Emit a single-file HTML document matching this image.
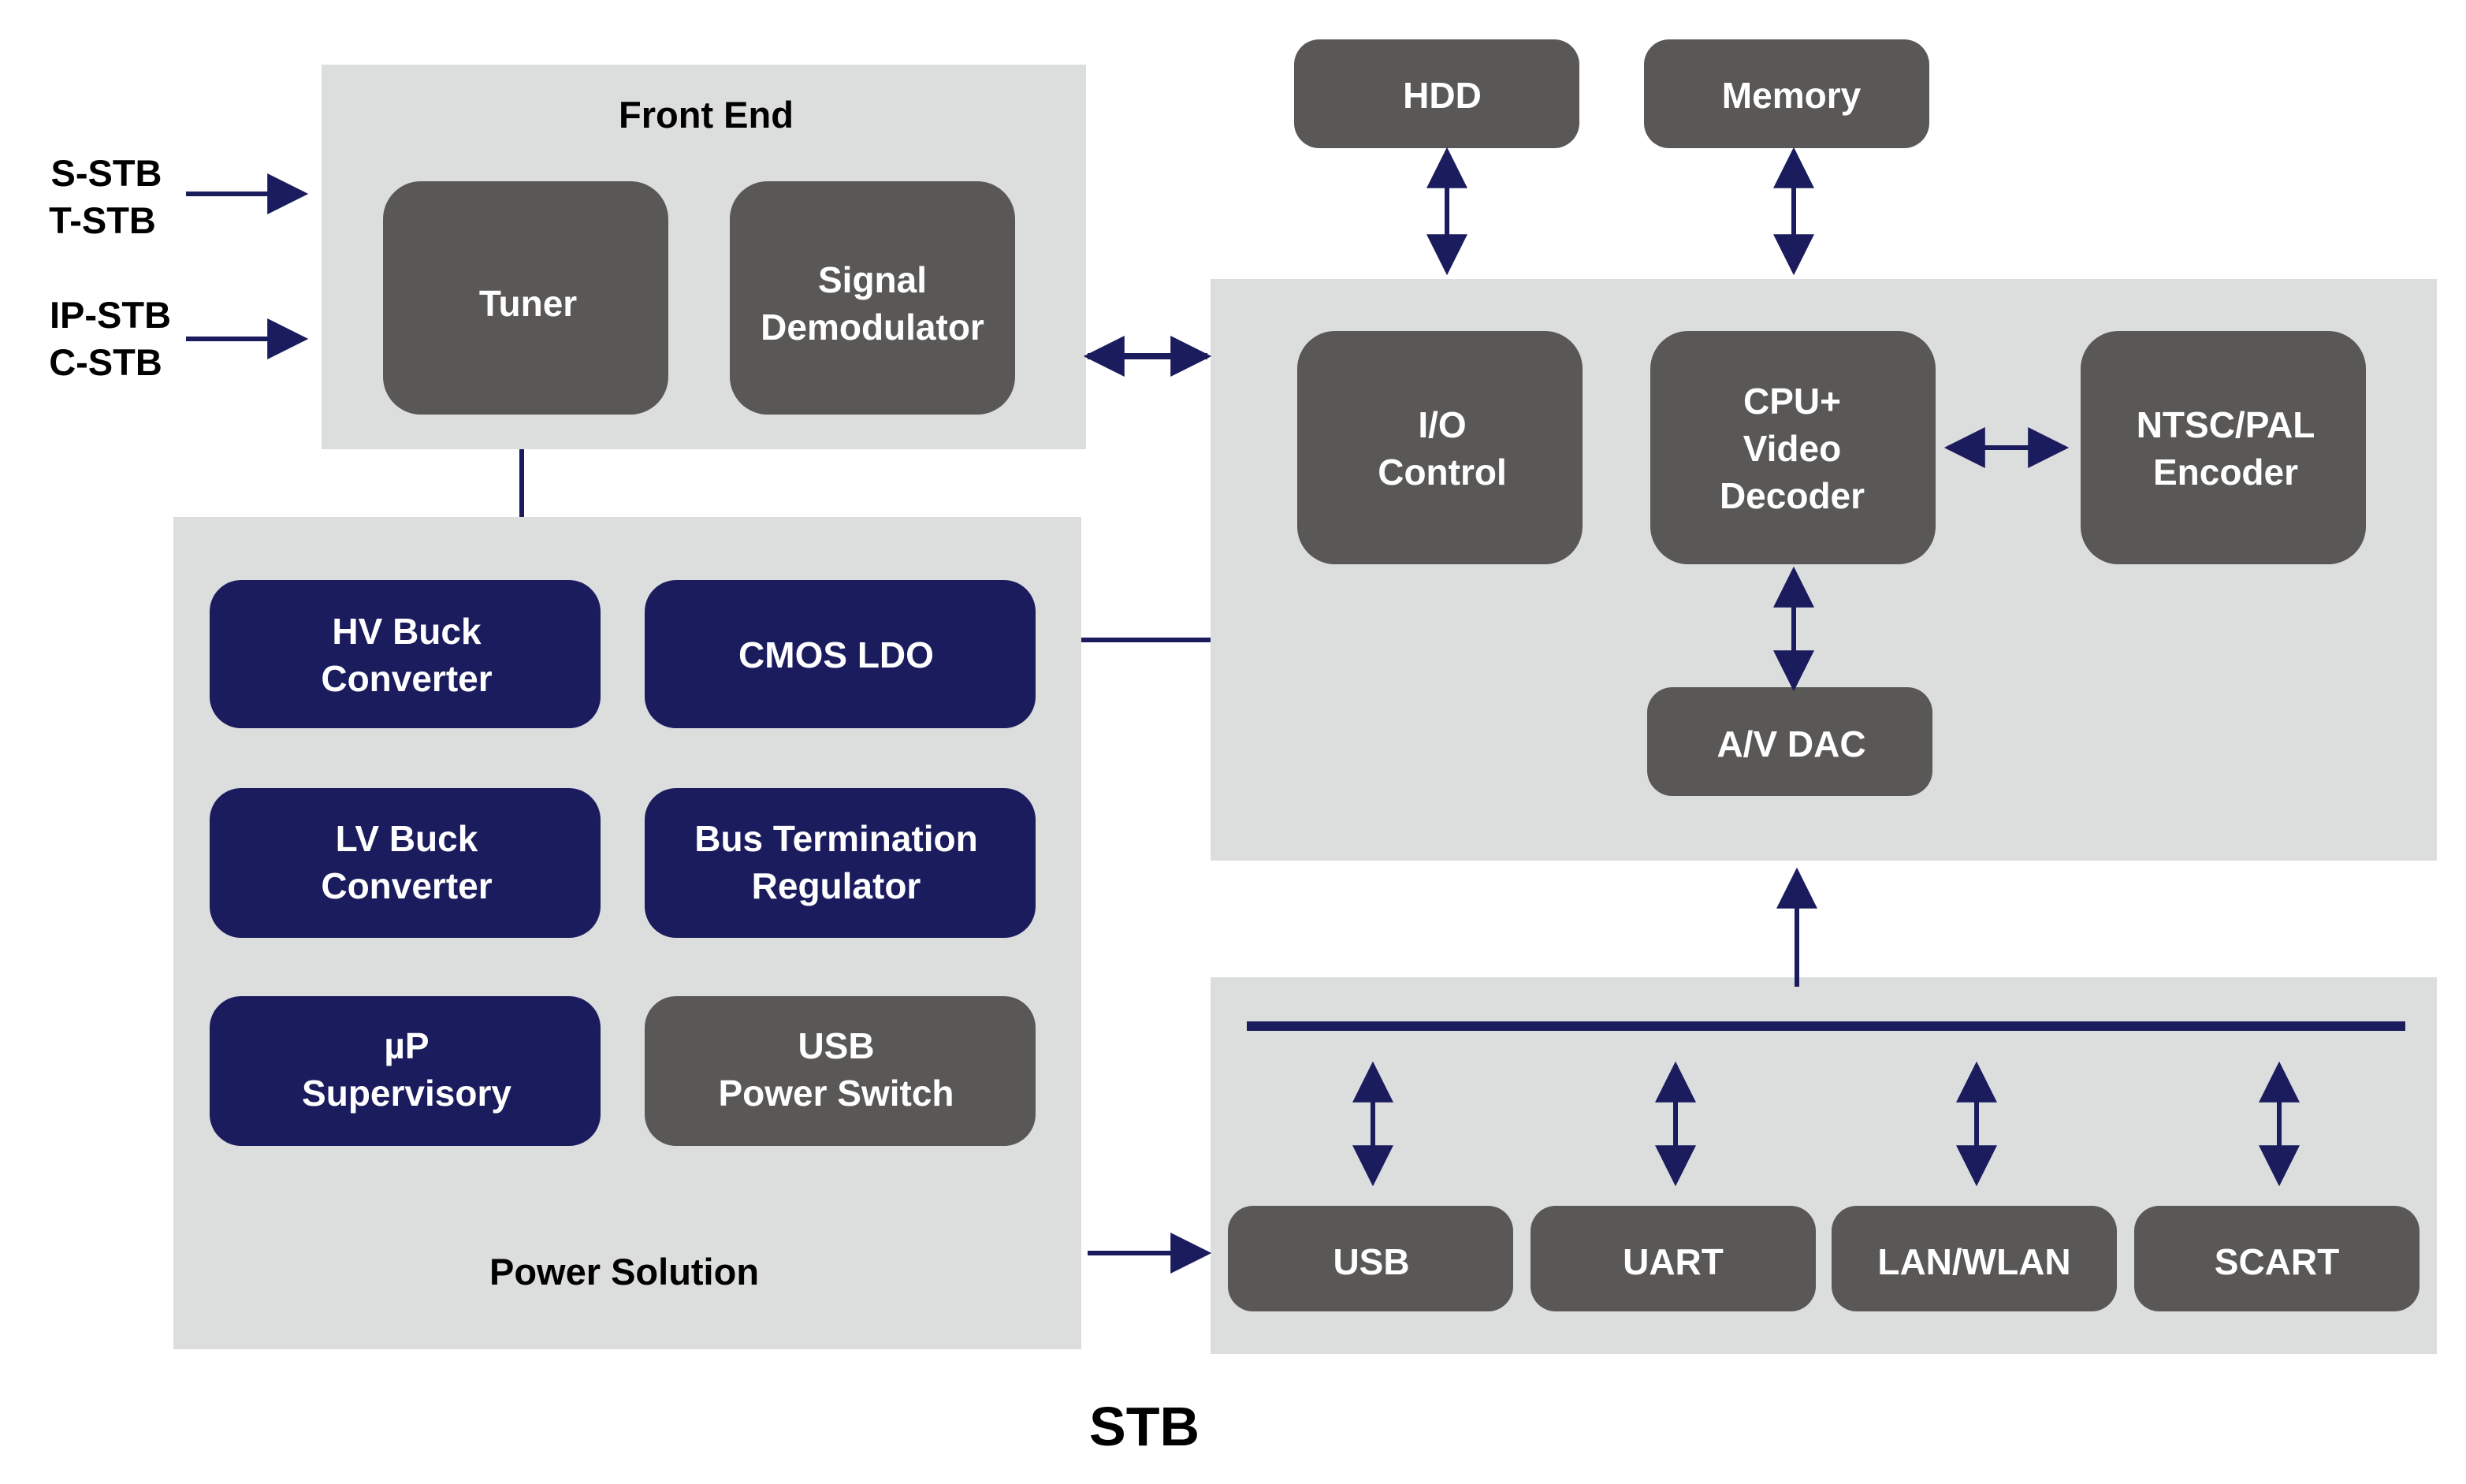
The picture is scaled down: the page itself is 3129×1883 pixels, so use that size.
<!DOCTYPE html>
<html><head><meta charset="utf-8"><style>html,body{margin:0;padding:0;background:#fff}svg{display:block}</style></head>
<body>
<svg width="3129" height="1883" viewBox="0 0 3129 1883" xmlns="http://www.w3.org/2000/svg" font-family="Liberation Sans, Arial, sans-serif" font-weight="bold">
<defs>
<marker id="ah" viewBox="0 0 10 10" refX="9" refY="5" markerWidth="68" markerHeight="52" markerUnits="userSpaceOnUse" orient="auto-start-reverse"><path d="M0,0 L10,5 L0,10 z" fill="#1a1c5e"/></marker>
</defs>
<!-- panels -->
<rect x="408" y="82" width="970" height="488" fill="#dcdddd"/>
<rect x="220" y="656" width="1152" height="1056" fill="#dcdddd"/>
<rect x="1536" y="354" width="1556" height="738" fill="#dcdddd"/>
<rect x="1536" y="1240" width="1556" height="478" fill="#dcdddd"/>
<g font-size="47" text-anchor="middle" fill="#000">
<text x="896" y="162">Front End</text>
<text x="792" y="1630">Power Solution</text>
<text x="135" y="236">S-STB</text><text x="130" y="296">T-STB</text>
<text x="140" y="416">IP-STB</text><text x="134" y="476">C-STB</text>
<text x="1452" y="1834" font-size="70">STB</text>
</g>
<!-- gray boxes -->
<g fill="#595856">
<rect x="486" y="230" width="362" height="296" rx="48"/>
<rect x="926" y="230" width="362" height="296" rx="48"/>
<rect x="1642" y="50" width="362" height="138" rx="32"/>
<rect x="2086" y="50" width="362" height="138" rx="32"/>
<rect x="1646" y="420" width="362" height="296" rx="48"/>
<rect x="2094" y="420" width="362" height="296" rx="48"/>
<rect x="2640" y="420" width="362" height="296" rx="48"/>
<rect x="2090" y="872" width="362" height="138" rx="32"/>
<rect x="1558" y="1530" width="362" height="134" rx="32"/>
<rect x="1942" y="1530" width="362" height="134" rx="32"/>
<rect x="2324" y="1530" width="362" height="134" rx="32"/>
<rect x="2708" y="1530" width="362" height="134" rx="32"/>
<rect x="818" y="1264" width="496" height="190" rx="40"/>
</g>
<g fill="#1a1c5e">
<rect x="266" y="736" width="496" height="188" rx="40"/>
<rect x="818" y="736" width="496" height="188" rx="40"/>
<rect x="266" y="1000" width="496" height="190" rx="40"/>
<rect x="818" y="1000" width="496" height="190" rx="40"/>
<rect x="266" y="1264" width="496" height="190" rx="40"/>
</g>
<g font-size="46" text-anchor="middle" fill="#fff">
<text x="670" y="401">Tuner</text>
<text x="1107" y="371">Signal</text><text x="1107" y="431">Demodulator</text>
<text x="1830" y="137">HDD</text>
<text x="2273" y="137">Memory</text>
<text x="1830" y="555">I/O</text><text x="1830" y="615">Control</text>
<text x="2274" y="525">CPU+</text><text x="2274" y="585">Video</text><text x="2274" y="645">Decoder</text>
<text x="2824" y="555">NTSC/PAL</text><text x="2824" y="615">Encoder</text>
<text x="2273" y="960">A/V DAC</text>
<text x="1740" y="1617">USB</text>
<text x="2123" y="1617">UART</text>
<text x="2505" y="1617">LAN/WLAN</text>
<text x="2889" y="1617">SCART</text>
<text x="516" y="817">HV Buck</text><text x="516" y="877">Converter</text>
<text x="1061" y="847">CMOS LDO</text>
<text x="516" y="1080">LV Buck</text><text x="516" y="1140">Converter</text>
<text x="1061" y="1080">Bus Termination</text><text x="1061" y="1140">Regulator</text>
<text x="516" y="1343">µP</text><text x="516" y="1403">Supervisory</text>
<text x="1061" y="1343">USB</text><text x="1061" y="1403">Power Switch</text>
</g>
<!-- connectors -->
<g stroke="#1a1c5e" stroke-width="6" fill="none">
<line x1="236" y1="246" x2="386" y2="246" marker-end="url(#ah)"/>
<line x1="236" y1="430" x2="386" y2="430" marker-end="url(#ah)"/>
<line x1="1380" y1="452" x2="1532" y2="452" marker-start="url(#ah)" marker-end="url(#ah)" stroke-width="8"/>
<line x1="662" y1="570" x2="662" y2="656"/>
<line x1="1372" y1="812" x2="1536" y2="812"/>
<line x1="1380" y1="1590" x2="1532" y2="1590" marker-end="url(#ah)"/>
<line x1="1836" y1="192" x2="1836" y2="344" marker-start="url(#ah)" marker-end="url(#ah)"/>
<line x1="2276" y1="192" x2="2276" y2="344" marker-start="url(#ah)" marker-end="url(#ah)"/>
<line x1="2472" y1="568" x2="2620" y2="568" marker-start="url(#ah)" marker-end="url(#ah)"/>
<line x1="2276" y1="724" x2="2276" y2="872" marker-start="url(#ah)" marker-end="url(#ah)"/>
<line x1="2280" y1="1252" x2="2280" y2="1106" marker-end="url(#ah)"/>
<line x1="1582" y1="1302" x2="3052" y2="1302" stroke-width="12"/>
<line x1="1742" y1="1352" x2="1742" y2="1500" marker-start="url(#ah)" marker-end="url(#ah)"/>
<line x1="2126" y1="1352" x2="2126" y2="1500" marker-start="url(#ah)" marker-end="url(#ah)"/>
<line x1="2508" y1="1352" x2="2508" y2="1500" marker-start="url(#ah)" marker-end="url(#ah)"/>
<line x1="2892" y1="1352" x2="2892" y2="1500" marker-start="url(#ah)" marker-end="url(#ah)"/>
</g>
</svg>
</body></html>
